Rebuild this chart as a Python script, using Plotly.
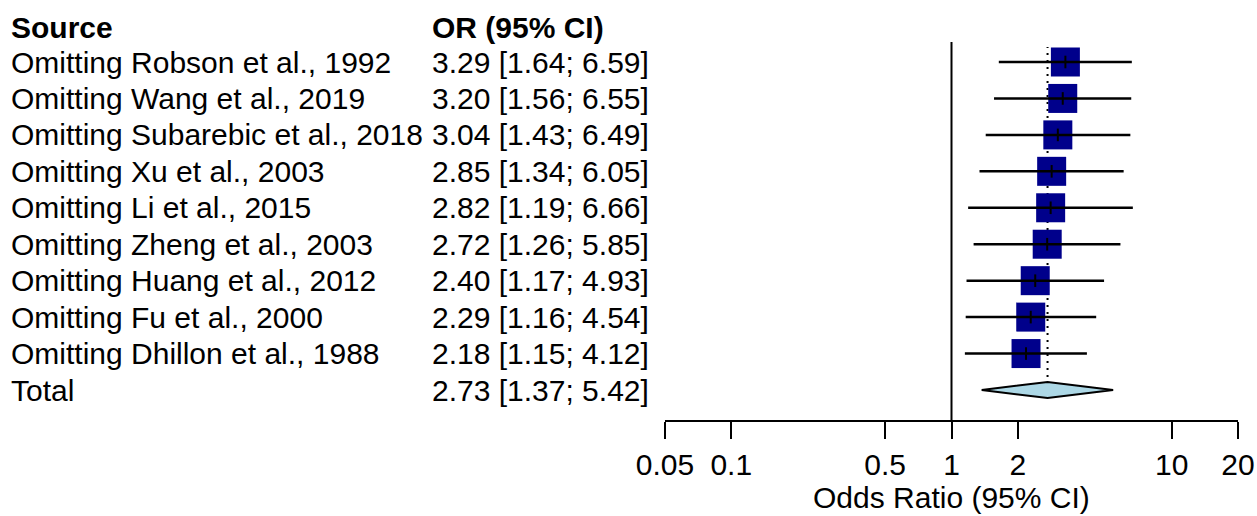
import plotly.graph_objects as go

studies = ["Omitting Robson et al., 1992", "Omitting Wang et al., 2019",
           "Omitting Subarebic et al., 2018", "Omitting Xu et al., 2003",
           "Omitting Li et al., 2015", "Omitting Zheng et al., 2003",
           "Omitting Huang et al., 2012", "Omitting Fu et al., 2000",
           "Omitting Dhillon et al., 1988"]
odds = [3.29, 3.20, 3.04, 2.85, 2.82, 2.72, 2.40, 2.29, 2.18]
lower = [1.64, 1.56, 1.43, 1.34, 1.19, 1.26, 1.17, 1.16, 1.15]
upper = [6.59, 6.55, 6.49, 6.05, 6.66, 5.85, 4.93, 4.54, 4.12]
total_label = "Total"
total_or, total_lo, total_hi = 2.73, 1.37, 5.42
tick_vals = [0.05, 0.1, 0.5, 1, 2, 10, 20]
tick_text = ["0.05", "0.1", "0.5", "1", "2", "10", "20"]

W, H = 1257, 516
FONT = "Liberation Sans, Arial, sans-serif"
FS = 30
n = len(studies)
ys = [n + 1 - i for i in range(n)]  # 10..2
y_total = 1
row1_px, total_px = 62, 390
px_per = (total_px - row1_px) / 9.0
plot_top, plot_bot = 42, 420
y_top = 10 + (row1_px - plot_top) / px_per
y_bot = 1 - (plot_bot - total_px) / px_per
plot_h = plot_bot - plot_top


def ypx(p):
    return 10 - (p - row1_px) / px_per


fig = go.Figure()

# reference line at OR = 1
fig.add_trace(go.Scatter(x=[1, 1], y=[y_bot, y_top], mode="lines",
                         line=dict(color="black", width=2), hoverinfo="skip"))
# dotted pooled estimate line
fig.add_trace(go.Scatter(x=[total_or, total_or], y=[ypx(377), ypx(47)],
                         mode="lines", line=dict(color="black", width=2, dash="2px,5px"),
                         hoverinfo="skip"))
# squares
fig.add_trace(go.Scatter(x=odds, y=ys, mode="markers",
                         marker=dict(symbol="square", size=29, color="#00008B",
                                     line=dict(width=0))))
# CI lines
for y, l, u in zip(ys, lower, upper):
    fig.add_trace(go.Scatter(x=[l, u], y=[y, y], mode="lines",
                             line=dict(color="black", width=2.5), hoverinfo="skip"))
# point estimate ticks
fig.add_trace(go.Scatter(x=odds, y=ys, mode="markers",
                         marker=dict(symbol="line-ns-open", size=9, color="black",
                                     line=dict(color="black", width=2))))
# diamond
dh = 8 / px_per
fig.add_trace(go.Scatter(x=[total_lo, total_or, total_hi, total_or, total_lo],
                         y=[y_total, y_total + dh, y_total, y_total - dh, y_total],
                         mode="lines", fill="toself", fillcolor="#ADD8E6",
                         line=dict(color="black", width=2), hoverinfo="skip"))

ann = []


def txt(xpx, y, s, bold=False, yref="y"):
    ann.append(dict(x=xpx / W, xref="paper", y=y, yref=yref,
                    text=f"<b>{s}</b>" if bold else s,
                    showarrow=False, xanchor="left", yanchor="middle",
                    font=dict(family=FONT, size=FS, color="black")))


hdr_y = (plot_bot - 27.5) / plot_h
txt(9, hdr_y, "Source", bold=True, yref="paper")
txt(430, hdr_y, "OR (95% CI)", bold=True, yref="paper")
for y, s, o, l, u in zip(ys, studies, odds, lower, upper):
    txt(9, y, s)
    txt(430, y, f"{o:.2f} [{l:.2f}; {u:.2f}]")
txt(9, y_total, total_label)
txt(430, y_total, f"{total_or:.2f} [{total_lo:.2f}; {total_hi:.2f}]")

ann.append(dict(x=0.5, xref="x domain", y=-(497 - plot_bot) / plot_h, yref="paper",
                text="Odds Ratio (95% CI)", showarrow=False, xanchor="center",
                yanchor="middle", font=dict(family=FONT, size=FS, color="black")))

fig.update_layout(
    width=W, height=H, showlegend=False,
    paper_bgcolor="white", plot_bgcolor="white",
    margin=dict(l=0, r=0, t=plot_top, b=H - plot_bot, autoexpand=False),
    annotations=ann,
    xaxis=dict(type="log", range=[-1.30103, 1.30103],
               domain=[665 / W, 1238 / W],
               tickvals=tick_vals, ticktext=tick_text, ticks="outside", ticklen=17,
               tickwidth=2, tickcolor="black", showline=True, linewidth=2,
               linecolor="black", showgrid=False, zeroline=False,
               ticklabelstandoff=0,
               tickfont=dict(family=FONT, size=FS, color="black")),
    yaxis=dict(range=[y_bot, y_top], visible=False, showgrid=False, zeroline=False),
)

fig.write_html("out.html", config={"displayModeBar": False},
               post_script="document.body.style.margin='0';document.body.style.overflow='hidden';")
